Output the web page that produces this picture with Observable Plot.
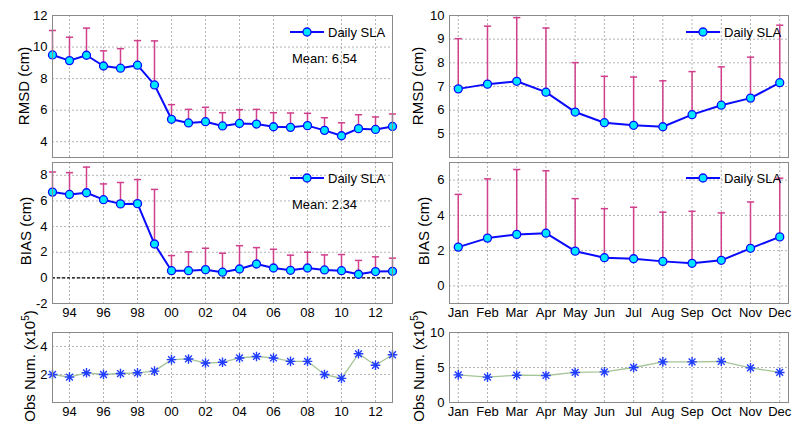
<!DOCTYPE html>
<html><head><meta charset="utf-8">
<script src="https://cdn.jsdelivr.net/npm/d3@7"></script>
<script src="https://cdn.jsdelivr.net/npm/@observablehq/plot@0.6"></script>
<style>
body{margin:0;background:#fff;}
#c{position:relative;width:792px;height:430px;overflow:hidden;font-family:"Liberation Sans",Arial,sans-serif;color:#000;}
.p{position:absolute;z-index:2;}
.yl{position:absolute;z-index:1;transform:translate(-50%,-50%) rotate(-90deg);white-space:nowrap;font-size:15px;line-height:1;}
.yl sup{font-size:10px;line-height:0;}
.lg{position:absolute;z-index:3;display:flex;align-items:center;font-size:13px;white-space:nowrap;}
.mean{position:absolute;z-index:3;font-size:13px;white-space:nowrap;transform:translateY(-50%);}
</style></head>
<body><div id="c"></div>
<script>
// ---- data ----
const years = [1993,1994,1995,1996,1997,1998,1999,2000,2001,2002,2003,2004,2005,2006,2007,2008,2009,2010,2011,2012,2013];
const rmsdYear    = [9.50,9.14,9.48,8.80,8.66,8.85,7.60,5.42,5.19,5.27,5.00,5.16,5.12,4.95,4.91,5.02,4.72,4.38,4.83,4.78,4.97];
const rmsdYearTop = [11.05,10.62,11.20,9.76,9.90,10.41,10.39,6.35,6.05,6.18,5.84,6.03,6.05,5.84,5.82,5.80,5.52,5.20,5.71,5.57,5.76];
const biasYear    = [6.69,6.51,6.64,6.10,5.77,5.79,2.64,0.56,0.56,0.64,0.44,0.69,1.08,0.77,0.59,0.77,0.62,0.56,0.28,0.49,0.51];
const biasYearTop = [8.26,8.21,8.64,7.33,7.44,7.67,6.90,1.74,2.03,2.31,1.92,2.51,2.36,2.23,1.77,2.00,1.79,1.82,1.36,1.64,1.54];
const obsYear     = [2.00,1.81,2.12,2.00,2.07,2.12,2.24,3.06,3.11,2.82,2.87,3.18,3.29,3.18,2.94,2.94,2.00,1.72,3.48,2.66,3.41];

const months = [1,2,3,4,5,6,7,8,9,10,11,12];
const monthLabels = ["Jan","Feb","Mar","Apr","May","Jun","Jul","Aug","Sep","Oct","Nov","Dec"];
const rmsdMonth    = [6.90,7.10,7.22,6.76,5.92,5.47,5.36,5.30,5.81,6.21,6.51,7.16];
const rmsdMonthTop = [9.02,9.55,9.91,9.47,8.01,7.43,7.40,7.24,7.63,7.83,8.24,9.59];
const biasMonth    = [2.20,2.71,2.92,2.99,1.97,1.60,1.54,1.39,1.28,1.45,2.13,2.78];
const biasMonthTop = [5.19,6.07,6.60,6.53,4.95,4.38,4.46,4.18,4.23,4.14,4.76,6.11];
const obsMonth     = [3.95,3.62,3.90,3.86,4.29,4.38,5.00,5.81,5.81,5.86,4.95,4.29];

const yearTicks = [1994,1996,1998,2000,2002,2004,2006,2008,2010,2012];
const rmsdTicksL = [4,6,8,10,12];
const biasTicksL = [-2,0,2,4,6,8];
const obsTicksL = [2,4];
const rmsdTicksR = [5,6,7,8,9,10];
const biasTicksR = [0,2,4,6];
const obsTicksR = [0,5,10];
const meanRmsd = "Mean: 6.54";
const meanBias = "Mean: 2.34";
const seriesName = "Daily SLA";

// ---- styles ----
const BLUE = "#0a0aff", CYAN = "#00e6ff", ERR = "#d0408c", GRID = "#a0a0a0", FRAME = "#8a8a8a";
const capSymbol = {draw(ctx, size){ const w = Math.sqrt(size/Math.PI); ctx.moveTo(-w,0); ctx.lineTo(w,0);} };
const starSymbol = {draw(ctx, size){ const r = Math.sqrt(size/Math.PI); const d = r*0.7071;
  ctx.moveTo(-r,0); ctx.lineTo(r,0); ctx.moveTo(0,-r); ctx.lineTo(0,r);
  ctx.moveTo(-d,-d); ctx.lineTo(d,d); ctx.moveTo(-d,d); ctx.lineTo(d,-d);} };

const root = document.getElementById("c");

function panel({left, top, w, h, ml, mr, mt, mb, xDomain, xTicks, xFormat, showX, yDomain, yTicks, marks}) {
  const chart = Plot.plot({
    width: ml + w + mr, height: mt + h + mb,
    marginLeft: ml, marginRight: mr, marginTop: mt, marginBottom: mb,
    style: {fontFamily: "'Liberation Sans', Arial, sans-serif", fontSize: "13px", color: "#000", background: "transparent", overflow: "visible"},
    x: {domain: xDomain, axis: null},
    y: {domain: yDomain, axis: null},
    marks: [
      Plot.gridX(xTicks, {stroke: GRID, strokeOpacity: 1, strokeDasharray: "2,2", strokeWidth: 0.8}),
      Plot.gridY(yTicks, {stroke: GRID, strokeOpacity: 1, strokeDasharray: "2,2", strokeWidth: 0.8}),
      ...marks,
      Plot.frame({stroke: FRAME, strokeWidth: 1}),
      Plot.text(yTicks, {y: d => d, text: d => String(d), frameAnchor: "left", textAnchor: "end", dx: -5, fill: "#000", fontSize: 13}),
      ...(showX ? [Plot.axisX(xTicks, {tickSize: 0, tickPadding: 4, tickFormat: xFormat, label: null, fill: "#000", fontSize: 13})] : [])
    ]
  });
  chart.classList.add("p");
  chart.style.left = (left - ml) + "px";
  chart.style.top = (top - mt) + "px";
  root.appendChild(chart);
}

function errMarks(x, v, u) {
  const data = x.map((d, i) => ({x: d, v: v[i], u: u[i]}));
  return [
    Plot.ruleX(data, {x: "x", y1: "v", y2: "u", stroke: ERR, strokeWidth: 1.5}),
    Plot.dot(data, {x: "x", y: "u", symbol: capSymbol, r: 3.6, stroke: ERR, strokeWidth: 1.5}),
    Plot.line(data, {x: "x", y: "v", stroke: BLUE, strokeWidth: 2}),
    Plot.dot(data, {x: "x", y: "v", r: 4, fill: CYAN, stroke: BLUE, strokeWidth: 1.3})
  ];
}
function obsMarks(x, v) {
  const data = x.map((d, i) => ({x: d, v: v[i]}));
  return [
    Plot.line(data, {x: "x", y: "v", stroke: "#a6c597", strokeWidth: 1.3}),
    Plot.dot(data, {x: "x", y: "v", symbol: starSymbol, r: 4.8, stroke: "#1f3cff", strokeWidth: 1.4})
  ];
}
const yearFmt = d => String(d % 100).padStart(2, "0");
const monFmt = d => monthLabels[d - 1];

// left column
const L = {left: 52, w: 340, ml: 50, mr: 6};
panel({...L, top: 15, h: 142, mt: 8, mb: 4, xDomain: [1993, 2013], xTicks: yearTicks, showX: false,
  yDomain: [3, 12], yTicks: rmsdTicksL, marks: errMarks(years, rmsdYear, rmsdYearTop)});
panel({...L, top: 162, h: 141, mt: 8, mb: 24, xDomain: [1993, 2013], xTicks: yearTicks, xFormat: yearFmt, showX: true,
  yDomain: [-2, 9], yTicks: biasTicksL,
  marks: [Plot.ruleY([0], {stroke: "#000", strokeDasharray: "3,2", strokeWidth: 1.2}), ...errMarks(years, biasYear, biasYearTop)]});
panel({...L, top: 332, h: 70, mt: 8, mb: 24, xDomain: [1993, 2013], xTicks: yearTicks, xFormat: yearFmt, showX: true,
  yDomain: [0, 5], yTicks: obsTicksL, marks: obsMarks(years, obsYear)});

// right column
const R = {left: 449, w: 339, ml: 40, mr: 3};
panel({...R, top: 15, h: 142, mt: 8, mb: 4, xDomain: [0.7, 12.3], xTicks: months, showX: false,
  yDomain: [4, 10], yTicks: rmsdTicksR, marks: errMarks(months, rmsdMonth, rmsdMonthTop)});
panel({...R, top: 162, h: 141, mt: 8, mb: 24, xDomain: [0.7, 12.3], xTicks: months, xFormat: monFmt, showX: true,
  yDomain: [-1, 7], yTicks: biasTicksR, marks: errMarks(months, biasMonth, biasMonthTop)});
panel({...R, top: 332, h: 70, mt: 8, mb: 24, xDomain: [0.7, 12.3], xTicks: months, xFormat: monFmt, showX: true,
  yDomain: [0, 10], yTicks: obsTicksR, marks: obsMarks(months, obsMonth)});

// y labels
function ylab(html, x, y) { const d = document.createElement("div"); d.className = "yl"; d.innerHTML = html;
  d.style.left = x + "px"; d.style.top = y + "px"; root.appendChild(d); }
ylab("RMSD (cm)", 23, 86);
ylab("BIAS (cm)", 25, 231);
ylab("Obs Num. (x10<sup>5</sup>)", 29, 366);
ylab("RMSD (cm)", 417, 86);
ylab("BIAS (cm)", 423, 231);
ylab("Obs Num. (x10<sup>5</sup>)", 418, 366);

// legends
function legend(x, y) {
  const d = document.createElement("div"); d.className = "lg";
  d.style.left = x + "px"; d.style.top = (y - 8) + "px"; d.style.height = "16px";
  d.innerHTML = `<svg width="36" height="16" style="margin-right:3px"><line x1="1" y1="8" x2="35" y2="8" stroke="${BLUE}" stroke-width="2"/><circle cx="18" cy="8" r="4" fill="${CYAN}" stroke="${BLUE}" stroke-width="1.3"/></svg><span>${seriesName}</span>`;
  root.appendChild(d);
}
function mean(txt, x, y) { const d = document.createElement("div"); d.className = "mean"; d.textContent = txt;
  d.style.left = x + "px"; d.style.top = y + "px"; root.appendChild(d); }
legend(289, 32); mean(meanRmsd, 292, 58);
legend(289, 178); mean(meanBias, 292, 204);
legend(685, 32);
legend(685, 178);
</script>
</body></html>
